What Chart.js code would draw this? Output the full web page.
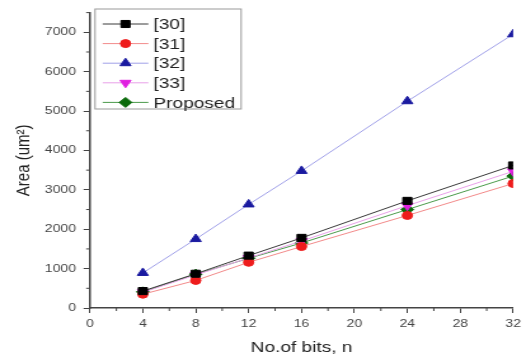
<!DOCTYPE html>
<html>
<head>
<meta charset="utf-8">
<script src="https://cdn.jsdelivr.net/npm/chart.js@4"></script>
<style>
  body { margin: 0; background: #fff; overflow: hidden; }
  /* the reference picture is stretched sideways, so draw narrow and scale */
  #wrap { width: 414px; height: 360px; transform: scaleX(1.2705); transform-origin: 0 0; }
</style>
</head>
<body>
<div id="wrap"><canvas id="areaChart" width="414" height="360"></canvas></div>
<script>
const bits = [4, 8, 12, 16, 24, 32];
const ref30 = [430, 870, 1330, 1780, 2720, 3620];
const ref31 = [350, 700, 1160, 1560, 2350, 3160];
const ref32 = [890, 1750, 2630, 3480, 5250, 6950];
const ref33 = [400, 840, 1270, 1700, 2600, 3470];
const proposed = [410, 860, 1260, 1650, 2500, 3350];
const seriesNames = ["[30]", "[31]", "[32]", "[33]", "Proposed"];

function pts(vals) {
  return bits.map(function(b, i) { return { x: b, y: vals[i] }; });
}

function series(label, vals, line, mark, style, radius, rot) {
  return {
    label: label,
    data: pts(vals),
    borderColor: line,
    borderWidth: 1,
    backgroundColor: mark,
    pointBackgroundColor: mark,
    pointBorderColor: mark,
    pointStyle: style,
    pointRadius: radius,
    pointRotation: rot || 0,
    tension: 0
  };
}

const sets = [
  series(seriesNames[0], ref30, "#3a3a3a", "#000000", "rect", 5),
  series(seriesNames[1], ref31, "#f28a8a", "#ee1c1c", "circle", 4),
  series(seriesNames[2], ref32, "#a0a0e8", "#1a1aa0", "triangle", 5),
  series(seriesNames[3], ref33, "#e8a0e8", "#e020e0", "triangle", 5, 180),
  series(seriesNames[4], proposed, "#4a9a4a", "#0a6a0a", "rectRot", 5)
];

// minor ticks halfway between the labelled ones
const minorTicks = {
  id: "minorTicks",
  afterDraw: function(chart) {
    const ctx = chart.ctx;
    const xs = chart.scales.x, ys = chart.scales.y;
    ctx.save();
    ctx.strokeStyle = "#444";
    ctx.lineWidth = 1;
    ctx.beginPath();
    for (let v = 2; v < 32; v += 4) {
      const px = xs.getPixelForValue(v);
      ctx.moveTo(px, ys.bottom);
      ctx.lineTo(px, ys.bottom + 3);
    }
    for (let v = 500; v <= 7500; v += 1000) {
      const py = ys.getPixelForValue(v);
      ctx.moveTo(xs.left, py);
      ctx.lineTo(xs.left - 3, py);
    }
    ctx.stroke();
    ctx.restore();
  }
};

// boxed legend inside the plot, line through marker like the original
const boxLegend = {
  id: "boxLegend",
  afterDraw: function(chart) {
    const ctx = chart.ctx;
    const left = chart.chartArea.left + 4, top = 9;
    const w = 115, rowH = 19.6;
    ctx.save();
    ctx.strokeStyle = "#999";
    ctx.lineWidth = 1;
    ctx.strokeRect(left, top, w, rowH * 5 + 2);
    ctx.font = "15px 'Liberation Sans', Arial, sans-serif";
    ctx.textBaseline = "middle";
    chart.data.datasets.forEach(function(ds, i) {
      const y = top + 15 + i * rowH;
      ctx.strokeStyle = ds.borderColor;
      ctx.lineWidth = 1;
      ctx.beginPath();
      ctx.moveTo(left + 6, y);
      ctx.lineTo(left + 42, y);
      ctx.stroke();
      ctx.fillStyle = ds.pointBackgroundColor;
      ctx.strokeStyle = ds.pointBorderColor;
      Chart.helpers.drawPoint(ctx, { pointStyle: ds.pointStyle, radius: ds.pointRadius, rotation: ds.pointRotation, borderWidth: 1 }, left + 24, y);
      ctx.fillStyle = "#222";
      ctx.fillText(ds.label, left + 46, y + 1);
    });
    ctx.restore();
  }
};

const ctx = document.getElementById("areaChart");
new Chart(ctx, {
  type: "line",
  data: { datasets: sets },
  options: {
    responsive: false,
    animation: false,
    layout: { padding: { top: 9, right: 7, bottom: 0, left: 0 } },
    plugins: { legend: { display: false }, tooltip: { enabled: false } },
    scales: {
      x: {
        type: "linear",
        min: 0,
        max: 32,
        afterFit: function(s) { s.height = 52; },
        ticks: { stepSize: 4, padding: 4, autoSkip: false, color: "#444", font: { size: 11, family: "'Liberation Sans', Arial, sans-serif" } },
        grid: { drawOnChartArea: false, tickLength: 5, tickColor: "#444" },
        border: { color: "#444", width: 1.5 },
        title: { display: true, text: "No.of bits, n", color: "#222", padding: { top: 0, bottom: 3 }, font: { size: 15, family: "'Liberation Sans', Arial, sans-serif" } }
      },
      y: {
        min: 0,
        max: 7500,
        afterFit: function(s) { s.width = 70.8; },
        ticks: {
          stepSize: 500,
          padding: 6,
          autoSkip: false,
          color: "#444",
          font: { size: 11, family: "'Liberation Sans', Arial, sans-serif" },
          callback: function(v) { return v % 1000 === 0 ? String(v) : ""; }
        },
        grid: {
          drawOnChartArea: false,
          tickLength: 5,
          tickColor: function(c) { return c.tick && c.tick.value % 1000 !== 0 ? "rgba(0,0,0,0)" : "#444"; }
        },
        border: { color: "#444", width: 1.5 },
        title: { display: true, text: "Area (um²)", color: "#222", padding: { top: 10, bottom: 0 }, font: { size: 15, family: "'Liberation Sans', Arial, sans-serif" } }
      }
    }
  },
  plugins: [minorTicks, boxLegend]
});
</script>
</body>
</html>
